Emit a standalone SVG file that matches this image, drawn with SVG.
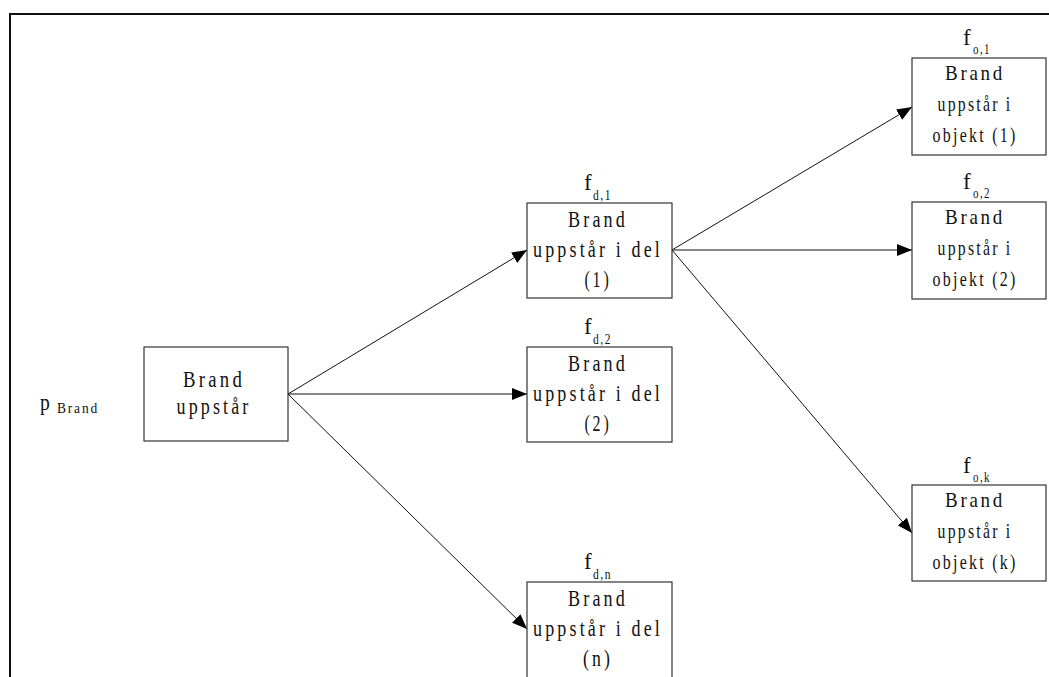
<svg xmlns="http://www.w3.org/2000/svg" width="1049" height="677" viewBox="0 0 1049 677">
<defs>
<style>
.box{fill:#fff;stroke:#333;stroke-width:1.2}
.t{font-family:"Liberation Serif","Times New Roman",serif;font-size:23px;letter-spacing:4px;fill:#111;text-anchor:middle}
.o{font-family:"Liberation Serif","Times New Roman",serif;font-size:21px;letter-spacing:3px;fill:#111;text-anchor:middle}
.f{font-family:"Liberation Serif","Times New Roman",serif;font-size:23px;fill:#111}
.s{font-family:"Liberation Serif","Times New Roman",serif;font-size:15px;letter-spacing:2px;fill:#111}
.c{stroke:#111;stroke-width:1;fill:none;marker-end:url(#ah)}
</style>
<marker id="ah" markerUnits="userSpaceOnUse" markerWidth="16" markerHeight="12" refX="15" refY="6" orient="auto">
<path d="M0,0 L15,6 L0,12 z" fill="#000"/>
</marker>
</defs>
<rect width="1049" height="677" fill="#fff"/>
<path d="M10,677 V14 H1049" fill="none" stroke="#111" stroke-width="2"/>

<g id="connectors">
<line class="c" x1="288" y1="394" x2="527" y2="250"/>
<line class="c" x1="288" y1="394" x2="527" y2="394"/>
<line class="c" x1="288" y1="394" x2="527" y2="629"/>
<line class="c" x1="672" y1="250" x2="912" y2="107"/>
<line class="c" x1="672" y1="250" x2="912" y2="250"/>
<line class="c" x1="672" y1="250" x2="912" y2="533"/>
</g>

<g id="pBrand">
<text class="f" x="40" y="410" transform="translate(40 0) scale(0.85 1) translate(-40 0)">p</text>
<text class="s" x="57" y="413" textLength="42" lengthAdjust="spacingAndGlyphs">Brand</text>
</g>

<g id="start">
<rect class="box" x="144" y="347" width="144" height="94"/>
<text class="t" x="214" y="387" textLength="62" lengthAdjust="spacingAndGlyphs">Brand</text>
<text class="t" x="214" y="414" textLength="75" lengthAdjust="spacingAndGlyphs">uppstår</text>
</g>

<g id="d1">
<text class="f" x="584" y="190">f</text>
<text class="s" x="593" y="200" textLength="19" lengthAdjust="spacingAndGlyphs">d,1</text>
<rect class="box" x="527" y="203" width="145" height="95"/>
<text class="t" x="598" y="227" textLength="60" lengthAdjust="spacingAndGlyphs">Brand</text>
<text class="t" x="598" y="257" textLength="130" lengthAdjust="spacingAndGlyphs">uppstår i del</text>
<text class="t" x="598" y="287" textLength="27" lengthAdjust="spacingAndGlyphs">(1)</text>
</g>

<g id="d2">
<text class="f" x="584" y="334">f</text>
<text class="s" x="593" y="344" textLength="19" lengthAdjust="spacingAndGlyphs">d,2</text>
<rect class="box" x="527" y="347" width="145" height="95"/>
<text class="t" x="598" y="371" textLength="60" lengthAdjust="spacingAndGlyphs">Brand</text>
<text class="t" x="598" y="401" textLength="130" lengthAdjust="spacingAndGlyphs">uppstår i del</text>
<text class="t" x="598" y="431" textLength="27" lengthAdjust="spacingAndGlyphs">(2)</text>
</g>

<g id="dn">
<text class="f" x="584" y="569">f</text>
<text class="s" x="593" y="579" textLength="19" lengthAdjust="spacingAndGlyphs">d,n</text>
<rect class="box" x="527" y="582" width="145" height="110"/>
<text class="t" x="598" y="606" textLength="60" lengthAdjust="spacingAndGlyphs">Brand</text>
<text class="t" x="598" y="636" textLength="130" lengthAdjust="spacingAndGlyphs">uppstår i del</text>
<text class="t" x="598" y="666" textLength="30" lengthAdjust="spacingAndGlyphs">(n)</text>
</g>

<g id="o1">
<text class="f" x="963" y="45">f</text>
<text class="s" x="973" y="54" textLength="18" lengthAdjust="spacingAndGlyphs">o,1</text>
<rect class="box" x="912" y="58" width="134" height="97"/>
<text class="o" x="975" y="80" textLength="60" lengthAdjust="spacingAndGlyphs">Brand</text>
<text class="o" x="975" y="111" textLength="75" lengthAdjust="spacingAndGlyphs">uppstår i</text>
<text class="o" x="975" y="142" textLength="85" lengthAdjust="spacingAndGlyphs">objekt (1)</text>
</g>

<g id="o2">
<text class="f" x="963" y="189">f</text>
<text class="s" x="973" y="198" textLength="18" lengthAdjust="spacingAndGlyphs">o,2</text>
<rect class="box" x="912" y="202" width="134" height="97"/>
<text class="o" x="975" y="224" textLength="60" lengthAdjust="spacingAndGlyphs">Brand</text>
<text class="o" x="975" y="255" textLength="75" lengthAdjust="spacingAndGlyphs">uppstår i</text>
<text class="o" x="975" y="286" textLength="85" lengthAdjust="spacingAndGlyphs">objekt (2)</text>
</g>

<g id="ok">
<text class="f" x="963" y="473">f</text>
<text class="s" x="973" y="482" textLength="18" lengthAdjust="spacingAndGlyphs">o,k</text>
<rect class="box" x="912" y="485" width="134" height="96"/>
<text class="o" x="975" y="507" textLength="60" lengthAdjust="spacingAndGlyphs">Brand</text>
<text class="o" x="975" y="538" textLength="75" lengthAdjust="spacingAndGlyphs">uppstår i</text>
<text class="o" x="975" y="569" textLength="85" lengthAdjust="spacingAndGlyphs">objekt (k)</text>
</g>
</svg>
